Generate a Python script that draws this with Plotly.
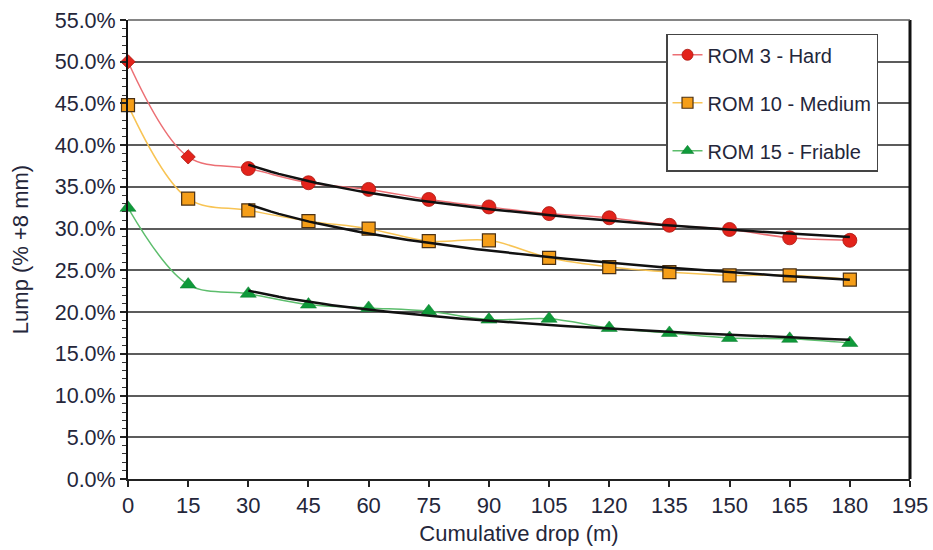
import numpy as np
import plotly.graph_objects as go

# Cumulative drop height (m)
drop_m = [0, 15, 30, 45, 60, 75, 90, 105, 120, 135, 150, 165, 180]

# Lump fraction (% +8 mm) per ore type
rom3_hard = [50.0, 38.6, 37.2, 35.5, 34.7, 33.5, 32.6, 31.8, 31.3, 30.4, 29.9, 28.9, 28.6]
rom10_medium = [44.8, 33.6, 32.2, 30.9, 30.0, 28.5, 28.6, 26.5, 25.4, 24.8, 24.4, 24.4, 23.9]
rom15_friable = [32.5, 23.3, 22.2, 20.9, 20.5, 20.1, 19.1, 19.2, 18.1, 17.5, 16.9, 16.8, 16.3]

x_ticks = list(range(0, 196, 15))
FONT = "Liberation Sans, Arial, sans-serif"
TEXT = "#24263a"

series = [
    dict(name="ROM 3 - Hard", y=rom3_hard, line="#ec6f74", fill="#e3231b",
         edge="#a8150e", edge_w=0.8, legend_symbol="circle",
         symbols=["diamond", "diamond"] + ["circle"] * 11,
         sizes=[11, 11] + [14] * 11),
    dict(name="ROM 10 - Medium", y=rom10_medium, line="#f8c454", fill="#f59e18",
         edge="#4a3014", edge_w=1.2, legend_symbol="square",
         symbols=["square"] * 13, sizes=[13] * 13),
    dict(name="ROM 15 - Friable", y=rom15_friable, line="#5cbd6c", fill="#0f9a3a",
         edge="#0b7a2c", edge_w=0.5, legend_symbol="triangle-up",
         symbols=["triangle-up"] * 13, sizes=[14] * 13),
]

fig = go.Figure()

# Smoothed data series with markers
for s in series:
    fig.add_trace(go.Scatter(
        x=drop_m, y=s["y"], name=s["name"], mode="lines+markers",
        line=dict(color=s["line"], width=1.5, shape="spline", smoothing=1.0),
        marker=dict(symbol=s["symbols"], size=s["sizes"], color=s["fill"],
                    opacity=1,
                    line=dict(color=s["edge"], width=s["edge_w"])),
        cliponaxis=False, showlegend=False,
    ))

# Logarithmic trend lines fitted over the 30-180 m drops
fit_x = np.array(drop_m[2:], dtype=float)
curve_x = np.linspace(fit_x[0], fit_x[-1], 80)
for s in series:
    fit_y = np.array(s["y"][2:], dtype=float)
    slope, intercept = np.polyfit(np.log(fit_x), fit_y, 1)
    fig.add_trace(go.Scatter(
        x=curve_x, y=intercept + slope * np.log(curve_x), mode="lines",
        line=dict(color="#111111", width=2.5), showlegend=False,
        hoverinfo="skip",
    ))

# Legend entries (one group each so the rows can be spaced apart)
for i, s in enumerate(series):
    fig.add_trace(go.Scatter(
        x=[None], y=[None], name=s["name"], mode="lines+markers",
        line=dict(color=s["line"], width=1.5),
        marker=dict(symbol=s["legend_symbol"], size=11, color=s["fill"],
                    line=dict(color=s["edge"], width=s["edge_w"])),
        legendgroup=f"g{i}",
    ))

fig.update_layout(
    width=933, height=550,
    margin=dict(l=128, r=23, t=20, b=71),
    paper_bgcolor="white", plot_bgcolor="white",
    font=dict(family=FONT, color=TEXT, size=20),
    showlegend=True,
    legend=dict(
        x=0.688, y=0.970, xanchor="left", yanchor="top",
        bgcolor="white", bordercolor="#444444", borderwidth=1.5,
        font=dict(family=FONT, size=20, color=TEXT),
        traceorder="grouped", tracegroupgap=19,
        entrywidth=176, entrywidthmode="pixels",
    ),
    xaxis=dict(
        range=[0, 195], tickvals=x_ticks, ticktext=[str(v) for v in x_ticks],
        showgrid=False, zeroline=False, automargin=False,
        showline=True, linecolor="#222222", linewidth=1.5,
        ticks="outside", ticklen=6, tickwidth=1.5, tickcolor="#222222",
        tickfont=dict(family=FONT, size=22, color=TEXT),
        title=dict(text="Cumulative drop (m)", standoff=8,
                   font=dict(family=FONT, size=22, color=TEXT)),
    ),
    yaxis=dict(
        range=[0, 55], dtick=5, tickformat=".1f", ticksuffix="%",
        showgrid=True, gridcolor="#5c5c5c", gridwidth=1.5, zeroline=False,
        automargin=False,
        showline=True, linecolor="#111111", linewidth=2,
        ticks="outside", ticklen=6, tickwidth=1.5, tickcolor="#222222",
        minor=dict(dtick=1, ticks="outside", ticklen=4, tickwidth=1,
                   tickcolor="#333333", showgrid=False),
        tickfont=dict(family=FONT, size=21.5, color=TEXT),
        title=dict(text="Lump (% +8 mm)", standoff=20,
                   font=dict(family=FONT, size=22, color=TEXT)),
    ),
    shapes=[
        # right-hand frame of the plot area
        dict(type="line", xref="x domain", yref="y domain",
             x0=1, x1=1, y0=0, y1=1, line=dict(color="#111111", width=3)),
        # top frame of the plot area
        dict(type="line", xref="x domain", yref="y domain",
             x0=0, x1=1, y0=1, y1=1, line=dict(color="#5c5c5c", width=1.5)),
    ],
)

fig.write_html("out.html")
